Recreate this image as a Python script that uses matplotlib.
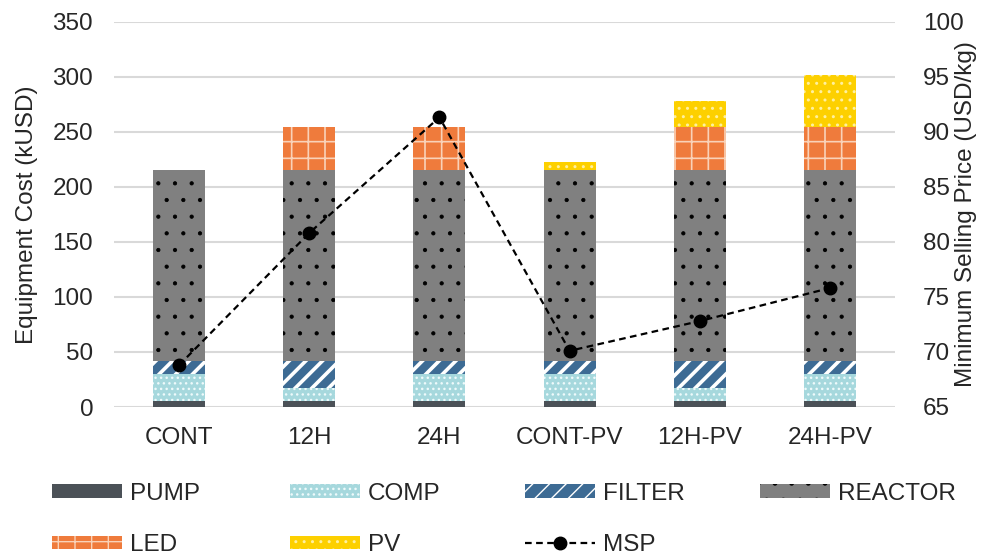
import matplotlib
matplotlib.use("Agg")
import matplotlib.pyplot as plt
from matplotlib.patches import Patch
from matplotlib.lines import Line2D
import numpy as np

plt.rcParams['font.family'] = ['Liberation Sans', 'DejaVu Sans']

categories = ["CONT", "12H", "24H", "CONT-PV", "12H-PV", "24H-PV"]
pump = [5, 5, 5, 5, 5, 5]
comp = [25, 12, 25, 25, 12, 25]
filt = [12, 25, 12, 12, 25, 12]
reactor = [173, 173, 173, 173, 173, 173]
led = [0, 39, 39, 0, 39, 39]
pv = [0, 0, 0, 7, 24, 47]
msp = [68.8, 80.8, 91.3, 70.1, 72.8, 75.8]

FS = 17.5
TXT = '#262626'

fig = plt.figure(figsize=(9.9, 5.59), dpi=100)
ax = fig.add_axes([114/990, 1-407/559, (895-114)/990, (407-21.5)/559])
x = np.arange(len(categories))
w = 0.4

series = [
    ("PUMP", pump, dict(color='#4b5157'), 1.0),
    ("COMP", comp, dict(facecolor='#a6d8dd', edgecolor='#eefafb', hatch='...'), 1.0),
    ("FILTER", filt, dict(facecolor='#3d6b94', edgecolor='white', hatch='//'), 2.6),
    ("REACTOR", reactor, dict(facecolor='#808080', edgecolor='black', hatch='.'), 0.6),
    ("LED", led, dict(facecolor='#ef7b3c', edgecolor='#f9d2b8', hatch='+'), 1.2),
    ("PV", pv, dict(facecolor='#fdd000', edgecolor='#fff0a0', hatch='..'), 1.0),
]

bottom = np.zeros(len(categories))
handles = {}
for name, vals, style, hl in series:
    vals = np.array(vals, dtype=float)
    with plt.rc_context({'hatch.linewidth': hl}):
        bars = ax.bar(x, vals, w, bottom=bottom, linewidth=0, zorder=2, **style)
        h = Patch(linewidth=0, **style)
        for p in list(bars) + [h]:
            if hasattr(p, 'set_hatch_linewidth'):
                p.set_hatch_linewidth(hl)
        handles[name] = h
    bottom += vals

ax.set_xlim(-0.5, 5.5)
ax.set_ylim(0, 350)
ax.set_yticks(np.arange(0, 351, 50))
ax.set_xticks(x)
ax.set_xticklabels(categories)
ax.grid(axis='y', color='#d9d9d9', linewidth=1.5, zorder=0)
ax.set_axisbelow(True)
for s in ax.spines.values():
    s.set_visible(False)
ax.tick_params(axis='both', length=0, labelsize=FS, colors=TXT)
ax.tick_params(axis='y', pad=15)
ax.tick_params(axis='x', pad=14.5)
ax.set_ylabel("Equipment Cost (kUSD)", fontsize=FS, color=TXT)
ax.yaxis.set_label_coords((38-114)/781, 0.5)

ax2 = ax.twinx()
ax2.set_ylim(65, 100)
ax2.set_yticks(np.arange(65, 101, 5))
for s in ax2.spines.values():
    s.set_visible(False)
ax2.tick_params(axis='y', length=0, labelsize=FS, colors=TXT, pad=20)
ax2.plot(x, msp, color='black', linestyle=(0, (3, 2)), linewidth=1.6,
         marker='o', markersize=9, zorder=5)
ax2.set_ylabel("Minimum Selling Price (USD/kg)", fontsize=FS, color=TXT)
ax2.yaxis.set_label_coords((955-114)/781, 0.5)

msp_handle = Line2D([], [], color='black', linestyle=(0, (3, 2)), linewidth=1.6,
                    marker='o', markersize=9)
columns = [(52, ["PUMP", "LED"]), (290, ["COMP", "PV"]),
           (525, ["FILTER", "MSP"]), (760, ["REACTOR"])]
for xpix, names in columns:
    hs = [msp_handle if n == "MSP" else handles[n] for n in names]
    leg = fig.legend(hs, names, ncol=1, loc='upper left',
                     bbox_to_anchor=(xpix/990, 1-483/559),
                     frameon=False, fontsize=FS, handlelength=2.88, handleheight=0.5,
                     handletextpad=0.33, labelspacing=1.2, borderpad=0, borderaxespad=0)
    for t in leg.get_texts():
        t.set_color(TXT)

fig.savefig("out.png", dpi=100)
